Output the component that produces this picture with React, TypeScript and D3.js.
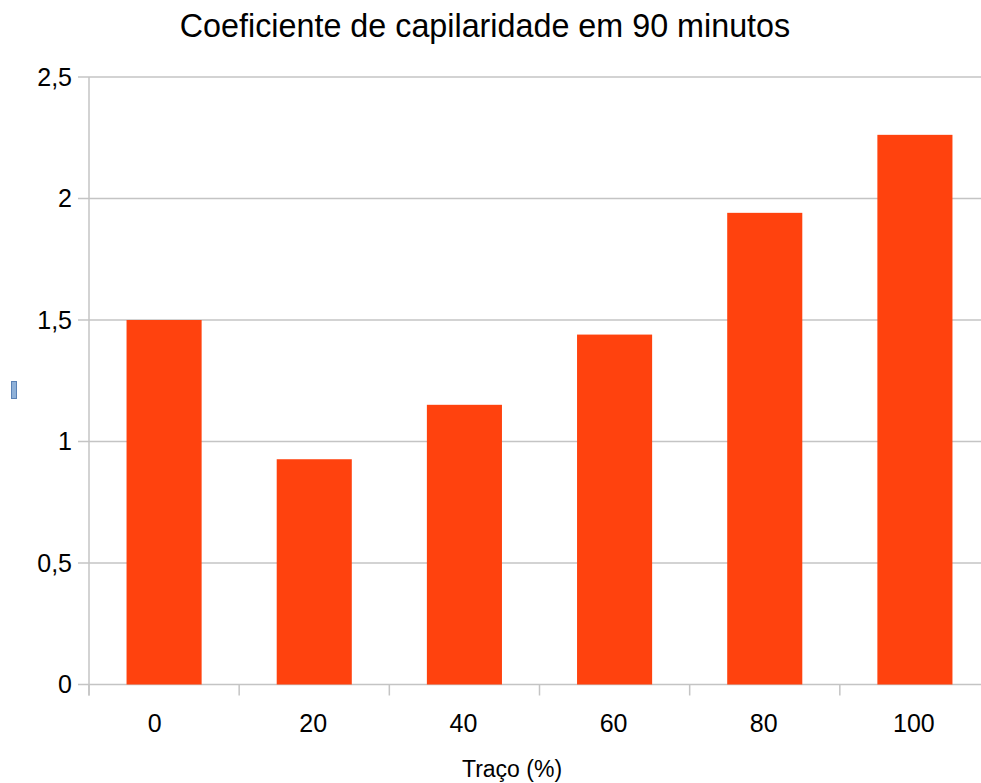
import { useEffect } from "react";
import * as d3 from "d3";

const WIDTH = 981;
const HEIGHT = 783;

const categories = ["0", "20", "40", "60", "80", "100"];
const values = [1.5, 0.927, 1.151, 1.44, 1.941, 2.262];
const yTicks = [0, 0.5, 1, 1.5, 2, 2.5];

const TITLE = "Coeficiente de capilaridade em 90 minutos";
const X_TITLE = "Traço (%)";

const BAR_COLOR = "#ff420e";
const GRID_COLOR = "#c4c4c4";
const FONT = "'Liberation Sans', Arial, sans-serif";

const fmt = (v: number) => String(v).replace(".", ",");

export default function App() {
  useEffect(() => {
    document.body.style.margin = "0";
  }, []);

  const x = d3
    .scaleBand<string>()
    .domain(categories)
    .range([89, 990])
    .paddingInner(0.5)
    .paddingOuter(0.25);

  const y = d3.scaleLinear().domain([0, 2.5]).range([684.5, 77]);

  const step = x.step();
  const x0 = x.range()[0];
  const bottom = y(0);

  return (
    <svg width={WIDTH} height={HEIGHT} style={{ display: "block", background: "#fff" }}>
      {/* title */}
      <text
        x={485}
        y={37}
        textAnchor="middle"
        fontFamily={FONT}
        fontSize={32.3}
        fill="#000"
      >
        {TITLE}
      </text>

      {/* gridlines + y ticks */}
      {yTicks.map((t) => (
        <g key={t}>
          <line
            x1={78}
            x2={WIDTH}
            y1={y(t)}
            y2={y(t)}
            stroke={GRID_COLOR}
            strokeWidth={1.5}
          />
          <text
            x={72}
            y={y(t)}
            dy="0.35em"
            textAnchor="end"
            fontFamily={FONT}
            fontSize={25}
            fill="#000"
          >
            {fmt(t)}
          </text>
        </g>
      ))}

      {/* y axis line */}
      <line x1={89} x2={89} y1={y(2.5)} y2={bottom + 11} stroke={GRID_COLOR} strokeWidth={1.5} />

      {/* category ticks */}
      {d3.range(categories.length + 1).map((i) => (
        <line
          key={i}
          x1={x0 + i * step}
          x2={x0 + i * step}
          y1={bottom}
          y2={bottom + 11}
          stroke={GRID_COLOR}
          strokeWidth={1.5}
        />
      ))}

      {/* bars */}
      {categories.map((c, i) => (
        <rect
          key={c}
          x={x(c)}
          y={y(values[i])}
          width={x.bandwidth()}
          height={bottom - y(values[i])}
          fill={BAR_COLOR}
        />
      ))}

      {/* x labels (the first one sits a bit left of its bar in the original) */}
      {categories.map((c, i) => (
        <text
          key={c}
          x={(x(c) ?? 0) + x.bandwidth() / 2}
          dx={i === 0 ? -9.5 : -1}
          y={732}
          textAnchor="middle"
          fontFamily={FONT}
          fontSize={25}
          fill="#000"
        >
          {c}
        </text>
      ))}

      {/* x axis title */}
      <text
        x={512}
        y={777}
        textAnchor="middle"
        fontFamily={FONT}
        fontSize={23}
        fill="#000"
      >
        {X_TITLE}
      </text>

      {/* small marker at left edge */}
      <rect x={11.5} y={381.5} width={5} height={17} fill="#8fb1d8" stroke="#5b82b5" strokeWidth={1} />
    </svg>
  );
}
